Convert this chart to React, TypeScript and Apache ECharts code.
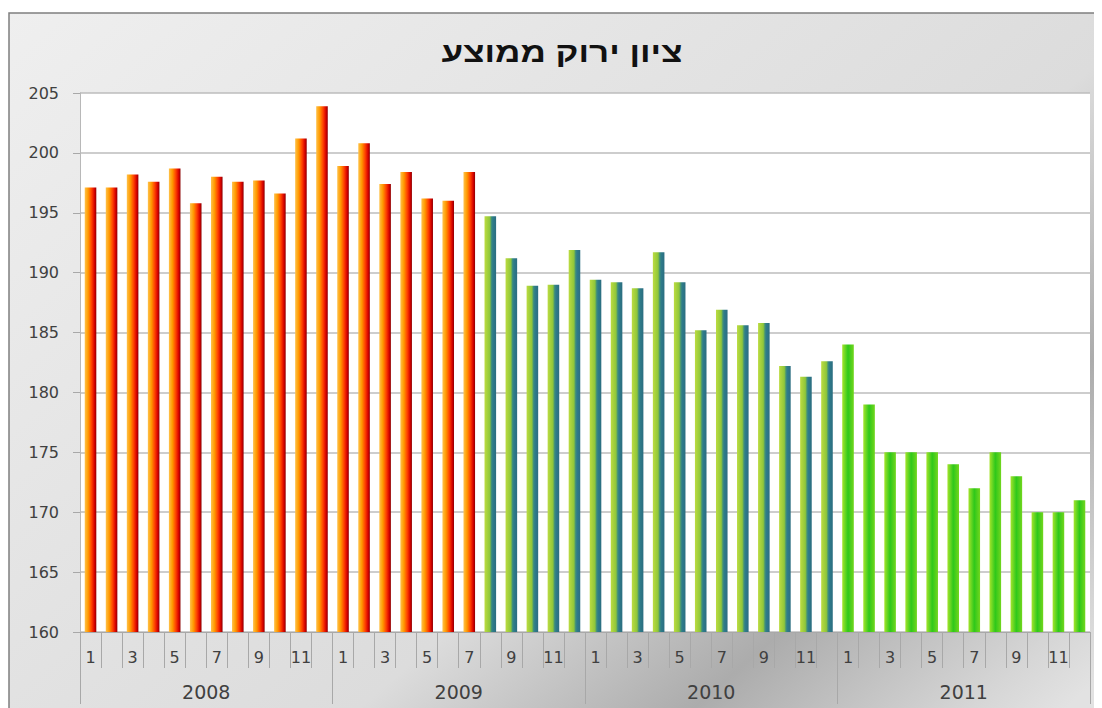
import React, { useEffect, useRef } from "react";
import * as echarts from "echarts";

const titleText = "ציון ירוק ממוצע";
const years = ["2008", "2009", "2010", "2011"];
const months = ["1", "2", "3", "4", "5", "6", "7", "8", "9", "10", "11", "12"];

const scores2008 = [197.1, 197.1, 198.2, 197.6, 198.7, 195.8, 198.0, 197.6, 197.7, 196.6, 201.2, 203.9];
const scores2009 = [198.9, 200.8, 197.4, 198.4, 196.2, 196.0, 198.4, 194.7, 191.2, 188.9, 189.0, 191.9];
const scores2010 = [189.4, 189.2, 188.7, 191.7, 189.2, 185.2, 186.9, 185.6, 185.8, 182.2, 181.3, 182.6];
const scores2011 = [184.0, 179.0, 175.0, 175.0, 175.0, 174.0, 172.0, 175.0, 173.0, 170.0, 170.0, 171.0];

// colour period of each month: 0 = orange, 1 = teal-green, 2 = green
const period2008 = [0, 0, 0, 0, 0, 0, 0, 0, 0, 0, 0, 0];
const period2009 = [0, 0, 0, 0, 0, 0, 0, 1, 1, 1, 1, 1];
const period2010 = [1, 1, 1, 1, 1, 1, 1, 1, 1, 1, 1, 1];
const period2011 = [2, 2, 2, 2, 2, 2, 2, 2, 2, 2, 2, 2];

const yTicks = { min: 160, max: 205, interval: 5 };

const gradientStops = [
  [
    { offset: 0, color: "#ffc24a" },
    { offset: 0.3, color: "#ff9a00" },
    { offset: 0.6, color: "#ff4000" },
    { offset: 0.85, color: "#d40000" },
    { offset: 1, color: "#8b0000" },
  ],
  [
    { offset: 0, color: "#bcdc40" },
    { offset: 0.45, color: "#8fc63a" },
    { offset: 0.6, color: "#3f8f7a" },
    { offset: 0.72, color: "#2e7b8a" },
    { offset: 1, color: "#2b6d80" },
  ],
  [
    { offset: 0, color: "#a4e42c" },
    { offset: 0.5, color: "#2ec81a" },
    { offset: 1, color: "#72d61e" },
  ],
];

export default function App() {
  const ref = useRef<HTMLDivElement>(null);

  useEffect(() => {
    if (!ref.current) return;
    const chart = echarts.init(ref.current, null, { renderer: "svg" });

    const allScores = [...scores2008, ...scores2009, ...scores2010, ...scores2011];
    const allPeriods = [...period2008, ...period2009, ...period2010, ...period2011];
    const categories = years.flatMap(() => months.map((m) => m));

    const data = allScores.map((v, i) => ({
      value: v,
      itemStyle: {
        color: new echarts.graphic.LinearGradient(0, 0, 1, 0, gradientStops[allPeriods[i]]),
      },
    }));

    const labelFont = '"DejaVu Sans", Verdana, sans-serif';

    chart.setOption({
      animation: false,
      graphic: [
        {
          type: "rect",
          z: -10,
          silent: true,
          shape: { x: 1, y: 5, width: 1200, height: 800 },
          style: {
            fill: new echarts.graphic.LinearGradient(
              0,
              0,
              805,
              921,
              [
                { offset: 0, color: "#efefef" },
                { offset: 0.62, color: "#dcdcdc" },
                { offset: 0.8, color: "#acacac" },
                { offset: 0.95, color: "#d6d6d6" },
                { offset: 1, color: "#e2e2e2" },
              ],
              true
            ),
            stroke: "#7f7f7f",
            lineWidth: 1.5,
          },
        },
        {
          type: "text",
          z: 10,
          x: 554,
          y: 44,
          scaleX: 1.25,
          style: {
            text: titleText,
            font: 'bold 28px "Liberation Sans", Arial, sans-serif',
            fill: "#111111",
            align: "center",
            verticalAlign: "middle",
          },
        },
      ],
      grid: {
        left: 72,
        right: 12,
        top: 85,
        bottom: 76,
        show: true,
        backgroundColor: "#ffffff",
        borderWidth: 0,
      },
      xAxis: [
        {
          type: "category",
          data: categories,
          position: "bottom",
          boundaryGap: true,
          axisLine: { show: true, lineStyle: { color: "#a8a8a8", width: 1 } },
          axisTick: { show: true, interval: 0, length: 36, lineStyle: { color: "#a8a8a8" } },
          axisLabel: {
            interval: 1,
            margin: 17,
            fontSize: 16,
            color: "#404040",
            fontFamily: labelFont,
          },
          splitLine: { show: false },
        },
        {
          type: "category",
          data: years,
          position: "bottom",
          boundaryGap: true,
          axisLine: { show: false },
          axisTick: { show: true, interval: 0, length: 72, lineStyle: { color: "#a8a8a8" } },
          axisLabel: {
            interval: 0,
            margin: 50,
            fontSize: 19,
            color: "#404040",
            fontFamily: labelFont,
          },
          splitLine: { show: false },
        },
      ],
      yAxis: {
        type: "value",
        min: yTicks.min,
        max: yTicks.max,
        interval: yTicks.interval,
        axisLine: { show: true, lineStyle: { color: "#b8b8b8" } },
        axisTick: { show: true, length: 7, lineStyle: { color: "#a8a8a8" } },
        axisLabel: {
          margin: 21,
          fontSize: 16,
          color: "#404040",
          fontFamily: labelFont,
        },
        splitLine: { show: true, lineStyle: { color: "#bdbdbd", width: 1.5 } },
      },
      series: [
        {
          type: "bar",
          xAxisIndex: 0,
          data,
          barCategoryGap: "45%",
        },
      ],
    });

    return () => chart.dispose();
  }, []);

  return <div ref={ref} style={{ width: 1094, height: 700 }} />;
}
